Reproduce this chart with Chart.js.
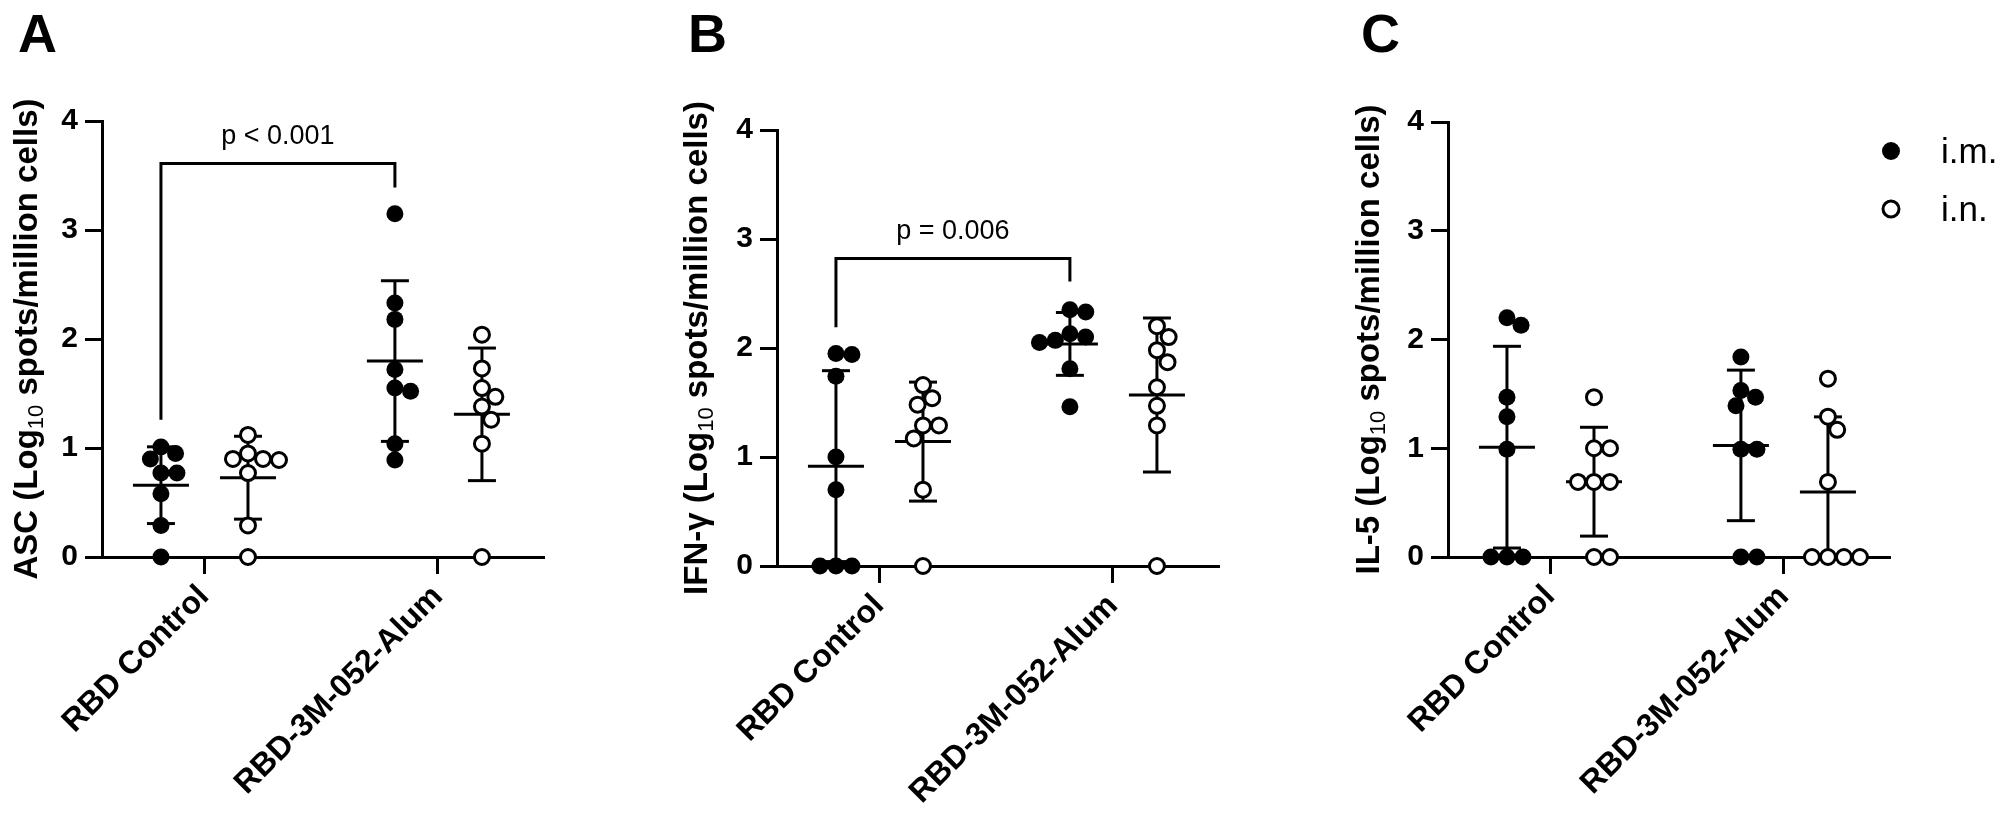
<!DOCTYPE html>
<html>
<head>
<meta charset="utf-8">
<title>ELISpot responses by route</title>
<script src="https://cdn.jsdelivr.net/npm/chart.js@4.4.1/dist/chart.umd.min.js"></script>
<style>
  body { margin: 0; background: #fff; }
  #figure { position: relative; width: 2009px; height: 829px; overflow: hidden; background: #fff; }
  #figure canvas { position: absolute; top: 0; }
</style>
</head>
<body>
<div id="figure">
  <canvas id="panelA" width="675" height="829" style="left:0px;width:675px;height:829px"></canvas>
  <canvas id="panelB" width="671" height="829" style="left:675px;width:671px;height:829px"></canvas>
  <canvas id="panelC" width="663" height="829" style="left:1346px;width:663px;height:829px"></canvas>
</div>
<script>
const groups = ["RBD Control", "RBD-3M-052-Alum"];
const seriesNames = ["i.m.", "i.n."];
const panelLetters = ["A", "B", "C"];

// Log10 spots/million cells; one row per group (RBD Control, RBD-3M-052-Alum)
const ascIm = [[1.01, 0.95, 0.90, 0.77, 0.77, 0.58, 0.29, 0], [3.15, 2.33, 2.18, 1.72, 1.55, 1.52, 1.04, 0.89]];
const ascIn = [[1.12, 0.95, 0.90, 0.90, 0.89, 0.77, 0.29, 0], [2.04, 1.73, 1.55, 1.47, 1.38, 1.26, 1.04, 0]];
const ifnIm = [[1.95, 1.94, 1.74, 1.00, 0.70, 0, 0, 0], [2.35, 2.33, 2.13, 2.10, 2.07, 2.05, 1.81, 1.46]];
const ifnIn = [[1.66, 1.54, 1.48, 1.29, 1.29, 1.17, 0.70, 0], [2.20, 2.10, 1.98, 1.87, 1.64, 1.47, 1.29, 0]];
const il5Im = [[2.20, 2.13, 1.47, 1.29, 0.99, 0, 0, 0], [1.84, 1.53, 1.47, 1.39, 0.99, 0.99, 0, 0]];
const il5In = [[1.47, 1.00, 1.00, 0.69, 0.69, 0.69, 0, 0], [1.64, 1.29, 1.17, 0.69, 0, 0, 0, 0]];

const axisTitles = [
  ["ASC (Log", "10", " spots/million cells)"],
  ["IFN-\u03b3 (Log", "10", " spots/million cells)"],
  ["IL-5 (Log", "10", " spots/million cells)"]
];
const pTexts = ["p < 0.001", "p = 0.006", null];
// left foot, bar height, right foot (axis units)
const bracketLevels = [[1.26, 3.61, 3.39], [2.19, 2.82, 2.61], null];

const panelSeries = [[ascIm, ascIn], [ifnIm, ifnIn], [il5Im, il5In]];

// layout
const FAMILY = "'Liberation Sans', Arial, Helvetica, sans-serif";
const AXIS_LEFT = 102;
const PLOT_WIDTH = 441;
const X_MIN = 0.564, X_MAX = 2.449;
const colOffset = [-0.184, 0.188];
const SPREAD_GAP = 16;
const MEAN_HALF = 28, CAP_HALF = 14;
const panelBoxes = [
  { id: "panelA", width: 675, top: 121, bottom: 557, titleGap: 65, letterGap: 84 },
  { id: "panelB", width: 671, top: 130, bottom: 566, titleGap: 70, letterGap: 89 },
  { id: "panelC", width: 663, top: 122, bottom: 557, titleGap: 69, letterGap: 87 }
];
const LEGEND_Y = [151, 209];

Chart.defaults.font.family = FAMILY;
Chart.defaults.color = "#000";

const mean = a => a.reduce((s, v) => s + v, 0) / a.length;
const stdev = a => {
  const m = mean(a);
  return Math.sqrt(a.reduce((s, v) => s + (v - m) ** 2, 0) / (a.length - 1));
};

function strokeLine(ctx, x1, y1, x2, y2) {
  ctx.beginPath();
  ctx.moveTo(x1, y1);
  ctx.lineTo(x2, y2);
  ctx.stroke();
}

function drawTitle(ctx, parts, cx, cy) {
  const fonts = ["bold 33px " + FAMILY, "22px " + FAMILY, "bold 33px " + FAMILY];
  const shifts = [0, 6, 0];
  ctx.save();
  ctx.translate(cx, cy);
  ctx.rotate(-Math.PI / 2);
  ctx.fillStyle = "#000";
  ctx.textAlign = "left";
  ctx.textBaseline = "alphabetic";
  const widths = parts.map((p, k) => { ctx.font = fonts[k]; return ctx.measureText(p).width; });
  let pos = -widths.reduce((a, b) => a + b, 0) / 2;
  parts.forEach((p, k) => {
    ctx.font = fonts[k];
    ctx.fillText(p, pos, shifts[k]);
    pos += widths[k];
  });
  ctx.restore();
}

const panelExtras = {
  id: "panelExtras",
  beforeDatasetsDraw(chart, args, opts) {
    const { ctx, scales: { x, y } } = chart;
    ctx.save();
    ctx.strokeStyle = "#000";
    ctx.lineWidth = 3;
    opts.series.forEach((rows, d) => {
      rows.forEach((vals, g) => {
        const m = mean(vals), sd = stdev(vals);
        const cx = x.getPixelForValue(g + 1 + colOffset[d]);
        const pm = y.getPixelForValue(m);
        const top = y.getPixelForValue(m + sd);
        const low = m - sd;
        const bot = y.getPixelForValue(Math.max(low, 0));
        strokeLine(ctx, cx, top, cx, bot);
        strokeLine(ctx, cx - MEAN_HALF, pm, cx + MEAN_HALF, pm);
        strokeLine(ctx, cx - CAP_HALF, top, cx + CAP_HALF, top);
        if (low >= 0) strokeLine(ctx, cx - CAP_HALF, bot, cx + CAP_HALF, bot);
      });
    });
    ctx.restore();
  },
  afterDraw(chart, args, opts) {
    const { ctx, chartArea, scales: { x, y } } = chart;
    ctx.save();
    ctx.fillStyle = "#000";
    ctx.strokeStyle = "#000";
    ctx.lineWidth = 3;

    if (opts.bracket) {
      const [footL, bar, footR] = opts.bracket;
      const xl = x.getPixelForValue(1 + colOffset[0]);
      const xr = x.getPixelForValue(2 + colOffset[0]);
      const yb = y.getPixelForValue(bar);
      ctx.beginPath();
      ctx.moveTo(xl, y.getPixelForValue(footL));
      ctx.lineTo(xl, yb);
      ctx.lineTo(xr, yb);
      ctx.lineTo(xr, y.getPixelForValue(footR));
      ctx.stroke();
      ctx.font = "27px " + FAMILY;
      ctx.textAlign = "center";
      ctx.textBaseline = "alphabetic";
      ctx.fillText(opts.pText, (xl + xr) / 2, yb - 20);
    }

    drawTitle(ctx, opts.title, chartArea.left - opts.titleGap, (chartArea.top + chartArea.bottom) / 2);

    ctx.font = "bold 54px " + FAMILY;
    ctx.textAlign = "left";
    ctx.textBaseline = "alphabetic";
    ctx.fillText(opts.letter, chartArea.left - opts.letterGap, 52);

    if (opts.legend) {
      const lx = chartArea.right + 2;
      ctx.font = "35px " + FAMILY;
      ctx.textBaseline = "middle";
      chart.data.datasets.forEach((ds, d) => {
        const ly = LEGEND_Y[d];
        ctx.beginPath();
        ctx.arc(lx, ly, d === 0 ? 9 : 8, 0, Math.PI * 2);
        if (d === 0) ctx.fill();
        else { ctx.fillStyle = "#fff"; ctx.fill(); ctx.fillStyle = "#000"; ctx.stroke(); }
        ctx.fillText(ds.label, lx + 50, ly + 2);
      });
    }
    ctx.restore();
  }
};

// place overlapping dots side by side (beeswarm), using the chart's own scales
function spreadPoints(chart, series) {
  const xs = chart.scales.x, ys = chart.scales.y;
  const pxPerX = xs.getPixelForValue(2) - xs.getPixelForValue(1);
  series.forEach((rows, d) => {
    const pts = [];
    rows.forEach((vals, g) => {
      const placed = [];
      vals.forEach(v => {
        const py = ys.getPixelForValue(v);
        const blocked = [];
        placed.forEach(p => {
          const dy = Math.abs(p.py - py);
          if (dy < SPREAD_GAP) {
            const w = Math.sqrt(SPREAD_GAP * SPREAD_GAP - dy * dy);
            blocked.push([p.dx - w, p.dx + w]);
          }
        });
        const cands = [0];
        blocked.forEach(b => cands.push(b[0], b[1]));
        const ok = cands.filter(c => blocked.every(b => c <= b[0] + 1e-6 || c >= b[1] - 1e-6));
        ok.sort((a, b) => Math.abs(a) - Math.abs(b) || b - a);
        const dx = ok[0];
        placed.push({ py, dx });
        pts.push({ x: g + 1 + colOffset[d] + dx / pxPerX, y: v });
      });
    });
    chart.data.datasets[d].data = pts;
  });
  chart.update("none");
}

function seedPoints(rows, d) {
  const pts = [];
  rows.forEach((vals, g) => vals.forEach(v => pts.push({ x: g + 1 + colOffset[d], y: v })));
  return pts;
}

function axisStyle() {
  return {
    grid: { drawOnChartArea: false, drawTicks: true, tickLength: 17, lineWidth: 3, color: "#000" },
    border: { display: true, color: "#000", width: 3 }
  };
}

function makeChart(i) {
  const box = panelBoxes[i];
  const series = panelSeries[i];
  const chart = new Chart(document.getElementById(box.id), {
    type: "scatter",
    data: {
      datasets: [
        {
          label: seriesNames[0],
          data: seedPoints(series[0], 0),
          pointRadius: 8.5,
          pointBackgroundColor: "#000",
          pointBorderColor: "#000",
          pointBorderWidth: 0,
          pointHoverRadius: 8.5,
          clip: false
        },
        {
          label: seriesNames[1],
          data: seedPoints(series[1], 1),
          pointRadius: 7.5,
          pointBackgroundColor: "#fff",
          pointBorderColor: "#000",
          pointBorderWidth: 3,
          pointHoverRadius: 7.5,
          clip: false
        }
      ]
    },
    options: {
      responsive: false,
      animation: false,
      devicePixelRatio: 1,
      events: [],
      layout: { padding: { top: box.top, right: box.width - AXIS_LEFT - PLOT_WIDTH, left: 0, bottom: 0 } },
      scales: {
        x: {
          type: "linear",
          min: X_MIN,
          max: X_MAX,
          afterBuildTicks: s => { s.ticks = groups.map((g, k) => ({ value: k + 1 })); },
          afterFit: s => { s.height = 829 - box.bottom; },
          ticks: {
            callback: v => groups[v - 1],
            minRotation: 45,
            maxRotation: 45,
            autoSkip: false,
            padding: 4,
            color: "#000",
            font: { size: 32, weight: "bold" }
          },
          ...axisStyle()
        },
        y: {
          min: 0,
          max: 4,
          afterFit: s => { s.width = AXIS_LEFT; },
          ticks: { stepSize: 1, padding: 7, color: "#000", font: { size: 30, weight: "bold" } },
          ...axisStyle()
        }
      },
      plugins: {
        legend: { display: false },
        tooltip: { enabled: false },
        panelExtras: {
          series,
          title: axisTitles[i],
          titleGap: box.titleGap,
          letter: panelLetters[i],
          letterGap: box.letterGap,
          bracket: bracketLevels[i],
          pText: pTexts[i],
          legend: i === 2
        }
      }
    },
    plugins: [panelExtras]
  });
  spreadPoints(chart, series);
  return chart;
}

const charts = panelBoxes.map((b, i) => makeChart(i));
</script>
</body>
</html>
